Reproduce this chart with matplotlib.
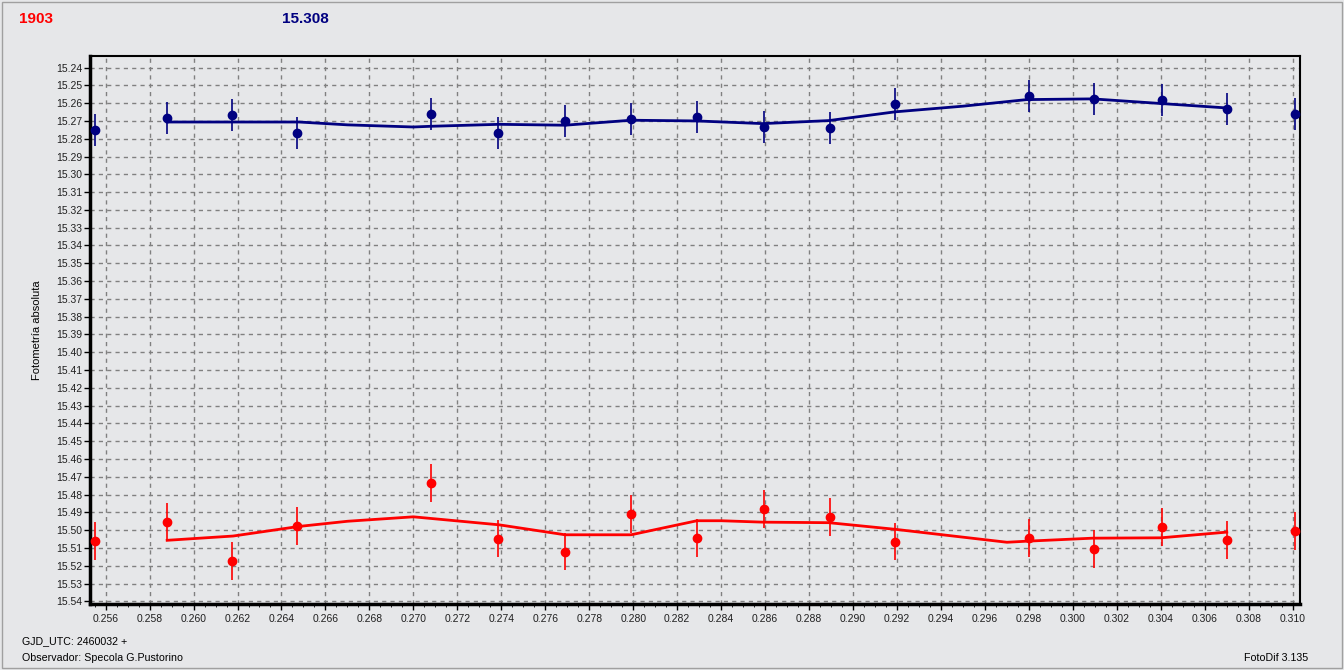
import matplotlib.pyplot as plt
from matplotlib.ticker import MultipleLocator, FormatStrFormatter
from matplotlib.patches import Rectangle

# time of each measure (fraction of day after GJD 2460032)
gjd = [0.25551, 0.25879, 0.26175, 0.26471, 0.27081, 0.27386, 0.27691, 0.27992,
       0.28292, 0.28593, 0.28893, 0.29192, 0.29802, 0.30098, 0.30403, 0.30703, 0.31008]

# star 1 (blue) magnitudes
mag_blue = [15.2752, 15.2685, 15.2668, 15.2769, 15.2661, 15.2767, 15.2703, 15.2690,
            15.2679, 15.2735, 15.2741, 15.2604, 15.2561, 15.2578, 15.2582, 15.2633, 15.2661]
err_blue = 0.009

# star 2 (red) magnitudes
mag_red = [15.5060, 15.4955, 15.5174, 15.4977, 15.4734, 15.5048, 15.5121, 15.4910,
           15.5044, 15.4881, 15.4925, 15.5065, 15.5044, 15.5106, 15.4983, 15.5056, 15.5005]
err_red = 0.0105

# smoothed curves
fit_blue_x = [0.2588, 0.2648, 0.2670, 0.2700, 0.2708, 0.2739, 0.2769, 0.2799, 0.2829,
              0.2859, 0.2889, 0.2919, 0.2950, 0.2979, 0.3009, 0.3040, 0.3070]
fit_blue_y = [15.2706, 15.2706, 15.2722, 15.2734, 15.2730, 15.2719, 15.2724, 15.2696, 15.2700,
              15.2715, 15.2698, 15.2649, 15.2617, 15.2580, 15.2576, 15.2602, 15.2627]

fit_red_x = [0.2588, 0.2618, 0.2648, 0.2670, 0.2700, 0.2739, 0.2769, 0.2799, 0.2829,
             0.2840, 0.2859, 0.2889, 0.2919, 0.2970, 0.2979, 0.3009, 0.3040, 0.3070]
fit_red_y = [15.5057, 15.5033, 15.4979, 15.4950, 15.4925, 15.4970, 15.5026, 15.5026, 15.4947,
             15.4947, 15.4955, 15.4958, 15.4995, 15.5068, 15.5062, 15.5045, 15.5043, 15.5011]

bg = '#e6e7e9'
blue = '#000080'
red = '#ff0000'
small = 'Liberation Sans'

fig = plt.figure(figsize=(13.44, 6.70), dpi=100, facecolor=bg)
ax = fig.add_axes([90 / 1344, 1 - 604 / 670, 1210 / 1344, 548 / 670])
ax.set_facecolor(bg)

ax.plot(fit_blue_x, fit_blue_y, color=blue, lw=2, zorder=3)
ax.plot(fit_red_x, fit_red_y, color=red, lw=2, zorder=3)
ax.errorbar(gjd, mag_blue, yerr=err_blue, fmt='o', color=blue, ms=6, elinewidth=1.2,
            capsize=0, zorder=4)
ax.errorbar(gjd, mag_red, yerr=err_red, fmt='o', color=red, ms=6, elinewidth=1.2,
            capsize=0, zorder=4)

ax.set_xlim(0.25529, 0.31033)
ax.set_ylim(15.5415, 15.2335)
ax.xaxis.set_major_locator(MultipleLocator(0.002))
ax.xaxis.set_minor_locator(MultipleLocator(0.0005))
ax.xaxis.set_major_formatter(FormatStrFormatter('%.3f'))
ax.yaxis.set_major_locator(MultipleLocator(0.01))
ax.yaxis.set_major_formatter(FormatStrFormatter('%.2f'))
ax.tick_params(labelsize=7.5, length=4, width=1, colors='black', labelcolor='#202020')
ax.tick_params(axis='y', pad=1.5)
ax.tick_params(which='minor', length=2)
for lab in ax.get_xticklabels() + ax.get_yticklabels():
    lab.set_family(small)
ax.grid(True, color='#808080', ls=(0, (3, 3)), lw=1)

for side in ['left', 'bottom']:
    ax.spines[side].set_linewidth(2.5)
for side in ['top', 'right']:
    ax.spines[side].set_linewidth(1.5)

fig.text(37 / 1344, 1 - 330 / 670, 'Fotometría absoluta', fontsize=8, family=small,
         rotation=90, ha='center', va='center')

fig.text(19 / 1344, 1 - 19 / 670, '1903', color=red, fontsize=11, fontweight='bold',
         family=small, va='center')
fig.text(282 / 1344, 1 - 19 / 670, '15.308', color=blue, fontsize=11, fontweight='bold',
         family=small, va='center')
fig.text(22 / 1344, 1 - 641 / 670, 'GJD_UTC: 2460032 +', fontsize=7.7, family=small, va='center')
fig.text(22 / 1344, 1 - 658 / 670, 'Observador: Specola G.Pustorino', fontsize=7.7, family=small,
         va='center')
fig.text(1308 / 1344, 1 - 658 / 670, 'FotoDif 3.135', fontsize=7.7, family=small, va='center',
         ha='right')

fig.patches.append(Rectangle((0.0015, 0.003), 0.997, 0.994, transform=fig.transFigure,
                             fill=False, edgecolor='#a0a0a0', lw=1))

fig.savefig('out.png', dpi=100, facecolor=bg)
